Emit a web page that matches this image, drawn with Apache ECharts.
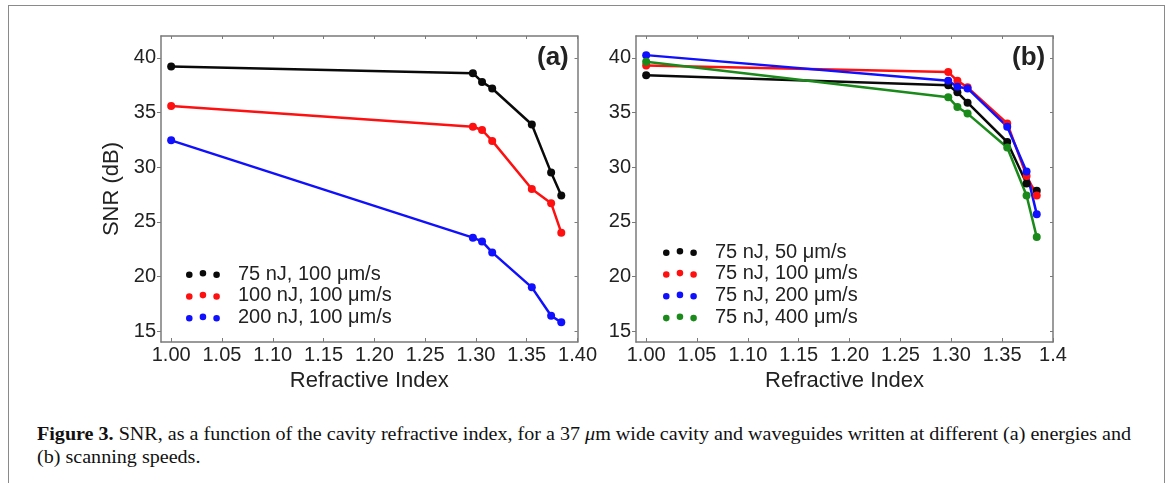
<!DOCTYPE html>
<html>
<head>
<meta charset="utf-8">
<script src="https://cdn.jsdelivr.net/npm/echarts@6.0.0/dist/echarts.min.js"></script>
<style>
  html, body { margin: 0; padding: 0; background: #fff; }
  .page { position: relative; width: 1170px; height: 483px; overflow: hidden; }
  .frame { position: absolute; left: 8px; top: 5px; width: 1155px; height: 520px; border: 1.5px solid #8a8a8a; }
  #chartA { position: absolute; left: 0; top: 0; width: 600px; height: 400px; }
  #chartB { position: absolute; left: 590px; top: 0; width: 500px; height: 400px; }
  .caption { position: absolute; left: 37px; top: 423px; font-family: "Liberation Serif", "DejaVu Serif", serif; font-size: 18px; line-height: 23px; color: #111; white-space: nowrap; transform-origin: 0 0; }
  .caption b { font-weight: bold; }
</style>
</head>
<body>
<div class="page">
  <div class="frame"></div>
  <!-- 两个面板分开画，图例名字有重复 -->
  <div id="chartA"></div>
  <div id="chartB"></div>
  <div class="caption" id="caption">
    <div><span id="cap1"><b>Figure 3.</b> SNR, as a function of the cavity refractive index, for a 37 <i>μ</i>m wide cavity and waveguides written at different (a) energies and</span></div>
    <div>(b) scanning speeds.</div>
  </div>
</div>

<script>
// 横轴: 折射率
var refIndex = [1.00, 1.297, 1.306, 1.316, 1.355, 1.374, 1.384];

// (a) 不同能量
var namesA = ['75 nJ, 100 μm/s', '100 nJ, 100 μm/s', '200 nJ, 100 μm/s'];
var snrA75 = [39.2, 38.6, 37.8, 37.2, 33.9, 29.5, 27.4];
var snrA100 = [35.6, 33.7, 33.4, 32.4, 28.0, 26.7, 24.0];
var snrA200 = [32.45, 23.55, 23.2, 22.2, 19.0, 16.4, 15.8];

// (b) 不同扫描速度
var namesB = ['75 nJ, 50 μm/s', '75 nJ, 100 μm/s', '75 nJ, 200 μm/s', '75 nJ, 400 μm/s'];
var snrB50 = [38.4, 37.5, 36.85, 35.9, 32.3, 28.5, 27.85];
var snrB100 = [39.3, 38.7, 37.9, 37.3, 34.0, 29.2, 27.4];
var snrB200 = [40.25, 37.9, 37.35, 37.2, 33.7, 29.6, 25.7];
var snrB400 = [39.65, 36.4, 35.5, 34.9, 31.8, 27.4, 23.6];

var xTicks = [1.00, 1.05, 1.10, 1.15, 1.20, 1.25, 1.30, 1.35, 1.40];
var yTicks = [15, 20, 25, 30, 35, 40];

var colors = ['#0a0a0a', '#ff1010', '#1010ff', '#1a8a1a'];
var fontName = 'Liberation Sans';
var axisGray = '#7a7a7a';
// 图例: 三个点
var dotsIcon = 'path://M0,4.5a3.5,3.5 0 1,0 7,0a3.5,3.5 0 1,0 -7,0M14.5,3a3.5,3.5 0 1,0 7,0a3.5,3.5 0 1,0 -7,0M29,4.5a3.5,3.5 0 1,0 7,0a3.5,3.5 0 1,0 -7,0';

function pairs(ys) {
  var out = [];
  ys.forEach(function (y, i) {
    out.push([refIndex[i], y]);
  });
  return out;
}

function makeOption(gridLeft, names, values, label, legendLeft, legendTop, lastLabel) {
  var series = [];
  values.forEach(function (ys, i) {
    series.push({
      name: names[i],
      type: 'line',
      data: pairs(ys),
      symbol: 'circle',
      symbolSize: 8,
      color: colors[i],
      lineStyle: { width: 2.5, color: colors[i] },
      itemStyle: { color: colors[i] },
      animation: false
    });
  });
  return {
    animation: false,
    textStyle: { fontFamily: fontName },
    grid: { left: gridLeft, top: 36, width: 417, height: 306, show: false },
    legend: {
      data: names,
      orient: 'vertical',
      left: legendLeft,
      top: legendTop,
      icon: dotsIcon,
      itemWidth: 36,
      itemHeight: 8,
      itemGap: 1.8,
      selectedMode: false,
      textStyle: { fontSize: 20, color: '#222', fontFamily: fontName, lineHeight: 20, padding: [0, 0, 0, 12] }
    },
    title: {
      text: label,
      left: gridLeft + 417 - 46,
      top: 40,
      textStyle: { fontSize: 26, fontWeight: 'bold', color: '#222', fontFamily: fontName }
    },
    xAxis: [{
      type: 'value',
      position: 'bottom',
      min: 0.99,
      max: 1.40,
      name: 'Refractive Index',
      nameLocation: 'middle',
      nameGap: 24,
      nameTextStyle: { fontSize: 22, color: '#222', fontFamily: fontName },
      axisLine: { show: true, onZero: false, lineStyle: { color: axisGray, width: 1.5 } },
      axisTick: { show: true, inside: true, length: 4, customValues: xTicks, lineStyle: { color: axisGray } },
      axisLabel: {
        customValues: xTicks,
        fontSize: 20,
        color: '#222',
        margin: 3,
        formatter: function (v) {
          if (lastLabel && Math.abs(v - 1.40) < 1e-6) return lastLabel;
          return v.toFixed(2);
        }
      },
      splitLine: { show: false }
    }, {
      type: 'value',
      position: 'top',
      min: 0.99,
      max: 1.40,
      axisLine: { show: true, onZero: false, lineStyle: { color: axisGray, width: 1.5 } },
      axisTick: { show: true, inside: true, length: 3, customValues: xTicks, lineStyle: { color: axisGray } },
      axisLabel: { show: false },
      splitLine: { show: false }
    }],
    yAxis: [{
      type: 'value',
      position: 'left',
      min: 14,
      max: 42,
      name: gridLeft > 100 ? 'SNR (dB)' : '',
      nameLocation: 'middle',
      nameGap: 32,
      nameTextStyle: { fontSize: 22, color: '#222', fontFamily: fontName },
      axisLine: { show: true, onZero: false, lineStyle: { color: axisGray, width: 1.5 } },
      axisTick: { show: true, inside: false, length: 4, customValues: yTicks, lineStyle: { color: axisGray } },
      axisLabel: { customValues: yTicks, fontSize: 20, color: '#222', margin: 5 },
      splitLine: { show: false }
    }, {
      type: 'value',
      position: 'right',
      min: 14,
      max: 42,
      axisLine: { show: true, onZero: false, lineStyle: { color: axisGray, width: 1.5 } },
      axisTick: { show: true, inside: true, length: 3, customValues: yTicks, lineStyle: { color: axisGray } },
      axisLabel: { show: false },
      splitLine: { show: false }
    }],
    series: series
  };
}

var chartA = echarts.init(document.getElementById('chartA'));
chartA.setOption(makeOption(161, namesA, [snrA75, snrA100, snrA200], '(a)', 181, 259, null));

var chartB = echarts.init(document.getElementById('chartB'));
chartB.setOption(makeOption(46, namesB, [snrB50, snrB100, snrB200, snrB400], '(b)', 68, 237, '1.4'));

// 标题文字拉伸到原图宽度
var w = document.getElementById('cap1').getBoundingClientRect().width;
var target = 1094;
document.getElementById('caption').style.transform = 'scaleX(' + (target / w).toFixed(4) + ')';
</script>
</body>
</html>
